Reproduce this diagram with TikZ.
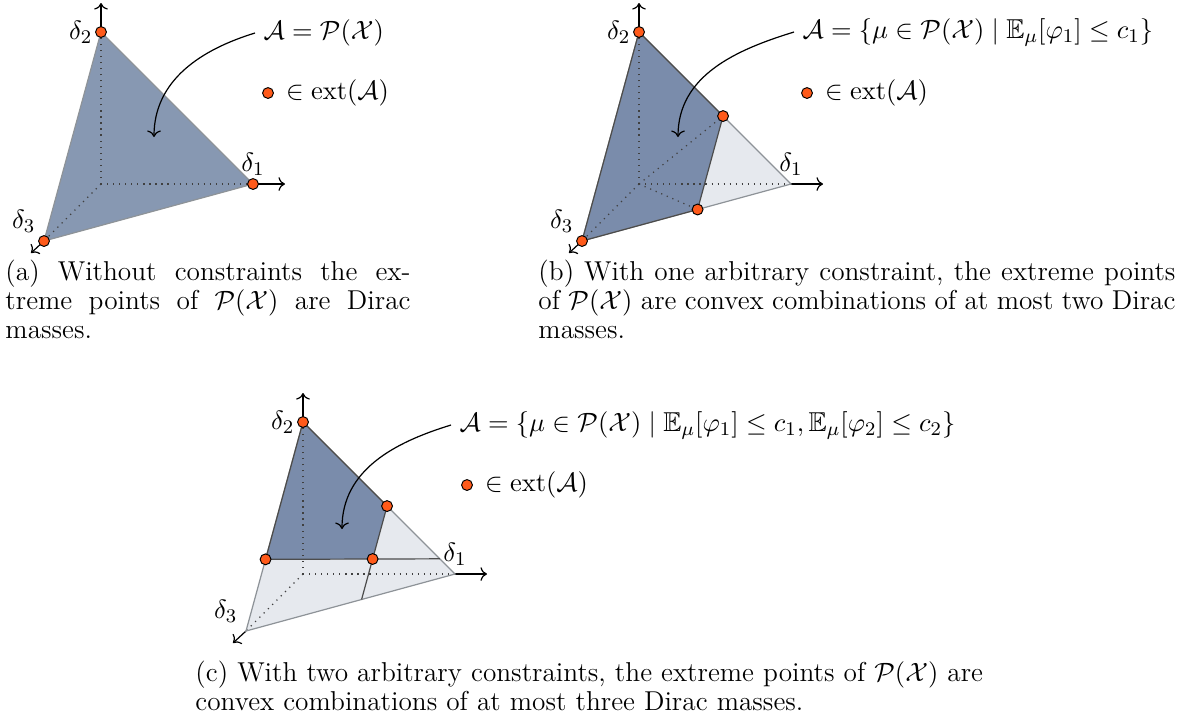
\documentclass[tikz,border=0pt]{standalone}
\usepackage{amsmath,amssymb}
\usepackage{tikz}
\usetikzlibrary{arrows.meta,positioning,calc}
\definecolor{SimplexBlue}{HTML}{8798B2}
\definecolor{FeasBlue}{HTML}{7A8CAB}
\definecolor{CutGray}{HTML}{E6E9EE}
\definecolor{ExtOrange}{HTML}{FF5A1A}
\definecolor{EdgeGray}{HTML}{8E9398}

\begin{document}
\begin{tikzpicture}[
  x=0.4138pt,y=-0.4138pt,
  every node/.style={font=\fontsize{11.3}{11.9}\selectfont},
  hidden/.style={dotted,black!75,line width=0.5pt},
  axis/.style={->,black,line width=0.5pt},
  edge/.style={draw=EdgeGray,line width=0.5pt},
  cutline/.style={draw=black!70,line width=0.5pt},
  extpt/.style={circle,draw=black,fill=ExtOrange,inner sep=0pt,minimum size=4.5pt,line width=0.4pt},
  pointer/.style={->,black,line width=0.5pt},
  caption/.style={text width=#1,align=justify,inner sep=0pt,anchor=north west},
]
\useasboundingbox (0,0) rectangle (1198,720);

% simplex corners of the three panels
\foreach \p/\ox/\oy in {a/101/184,b/639/184,c/303/574}{
  \begin{scope}[shift={(\ox,\oy)}]
    \coordinate (\p-o) at (0,0);
    \coordinate (\p-d1) at (152,0);
    \coordinate (\p-d2) at (0,-152);
    \coordinate (\p-d3) at (-57,57);
    \coordinate (\p-x1) at (184,0);
    \coordinate (\p-x2) at (0,-181);
    \coordinate (\p-x3) at (-70,69);
  \end{scope}
}

% constraint cuts
\coordinate (b-p1) at ($(b-d2)!0.553!(b-d1)$);
\coordinate (b-p2) at ($(b-d3)!0.553!(b-d1)$);
\coordinate (c-q2) at ($(c-d2)!0.553!(c-d1)$);
\coordinate (c-s) at ($(c-d3)!0.553!(c-d1)$);
\coordinate (c-q1) at ($(c-d2)!0.657!(c-d3)$);
\coordinate (c-r) at ($(c-d2)!0.9!(c-d1)$);
\coordinate (c-q3) at (intersection of c-q1--c-r and c-q2--c-s);

% faces
\fill[SimplexBlue] (a-d1) -- (a-d2) -- (a-d3) -- cycle;
\fill[CutGray] (b-p1) -- (b-d1) -- (b-p2) -- cycle;
\fill[FeasBlue] (b-d2) -- (b-p1) -- (b-p2) -- (b-d3) -- cycle;
\fill[CutGray] (c-d1) -- (c-d2) -- (c-d3) -- cycle;
\fill[FeasBlue] (c-d2) -- (c-q2) -- (c-q3) -- (c-q1) -- cycle;

% hidden edges and axes
\foreach \p in {a,b,c}{
  \foreach \k in {1,2,3}{
    \draw[hidden] (\p-o) -- (\p-d\k);
    \draw[axis] (\p-d\k) -- (\p-x\k);
  }
  \draw[edge] (\p-d1) -- (\p-d2) -- (\p-d3) -- cycle;
}
\draw[hidden] (b-o) -- (b-p1) (b-o) -- (b-p2);

% feasible sets
\draw[cutline] (b-d3) -- (b-d2) -- (b-p1) -- (b-p2) -- (b-d3);
\draw[cutline] (c-q1) -- (c-d2) -- (c-q2) -- (c-s);
\draw[cutline] (c-q1) -- (c-r);

% vertex labels
\foreach \p in {a,b,c}{
  \node[above] (\p-l1) at (\p-d1) {$\delta_1$};
  \node[left] (\p-l2) at (\p-d2) {$\delta_2$};
  \node[above left=0pt] (\p-l3) at (\p-d3) {$\delta_3$};
}

% extreme points
\node[extpt] (a-e1) at (a-d1) {};
\node[extpt] (a-e2) at (a-d2) {};
\node[extpt] (a-e3) at (a-d3) {};
\node[extpt] (b-e1) at (b-d2) {};
\node[extpt] (b-e2) at (b-d3) {};
\node[extpt] (b-e3) at (b-p1) {};
\node[extpt] (b-e4) at (b-p2) {};
\node[extpt] (c-e1) at (c-d2) {};
\node[extpt] (c-e2) at (c-q1) {};
\node[extpt] (c-e3) at (c-q2) {};
\node[extpt] (c-e4) at (c-q3) {};

% set labels and pointers
\node[anchor=west] (a-lab) at (255,33) {$\mathcal{A} = \mathcal{P}(\mathcal{X})$};
\coordinate (a-tip) at (154,137);
\draw[pointer] (a-lab.west) to[out=197,in=90] (a-tip);
\node[extpt] (a-key) at (268,93) {};
\node[right=1.5pt of a-key] (a-keytxt) {$\in \mathrm{ext}(\mathcal{A})$};

\node[anchor=west] (b-lab) at (794,32) {$\mathcal{A} = \{\mu \in \mathcal{P}(\mathcal{X}) \mid \mathbb{E}_\mu[\varphi_1] \le c_1\}$};
\coordinate (b-tip) at (678,137);
\draw[pointer] (b-lab.west) to[out=197,in=90] (b-tip);
\node[extpt] (b-key) at (807,93) {};
\node[right=1.5pt of b-key] (b-keytxt) {$\in \mathrm{ext}(\mathcal{A})$};

\node[anchor=west] (c-lab) at (451,425) {$\mathcal{A} = \{\mu \in \mathcal{P}(\mathcal{X}) \mid \mathbb{E}_\mu[\varphi_1] \le c_1, \mathbb{E}_\mu[\varphi_2] \le c_2\}$};
\coordinate (c-tip) at (342,529);
\draw[pointer] (c-lab.west) to[out=197,in=90] (c-tip);
\node[extpt] (c-key) at (467,485) {};
\node[right=1.5pt of c-key] (c-keytxt) {$\in \mathrm{ext}(\mathcal{A})$};

% captions
\node[caption=167.6pt] (a-cap) at (5,260) {(a) Without constraints the ex-\linebreak treme points of $\mathcal{P}(\mathcal{X})$ are Dirac\linebreak masses.};
\node[caption=263.6pt] (b-cap) at (538,260) {(b) With one arbitrary constraint, the extreme points\linebreak of $\mathcal{P}(\mathcal{X})$ are convex combinations of at most two Dirac\linebreak masses.};
\node[caption=345pt,align=left] (c-cap) at (195,661) {(c) With two arbitrary constraints, the extreme points of $\mathcal{P}(\mathcal{X})$ are\\ convex combinations of at most three Dirac masses.};
\end{tikzpicture}
\end{document}
